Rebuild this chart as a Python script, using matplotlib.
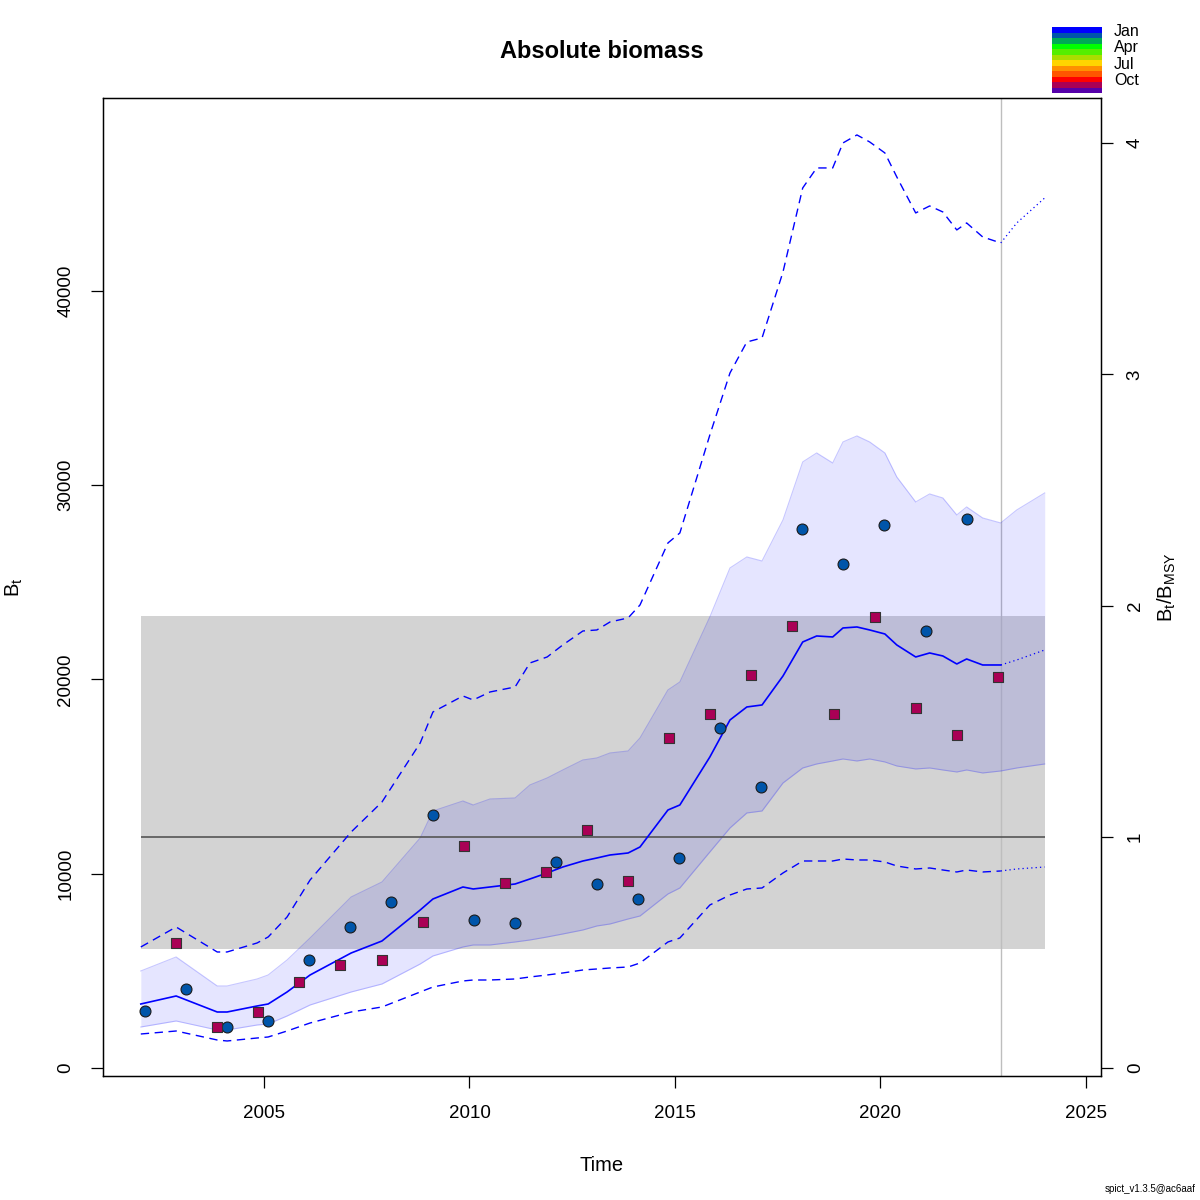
import numpy as np
import matplotlib
matplotlib.use("Agg")
import matplotlib.pyplot as plt

# time grid of the model (yr)
time = [2002.00, 2002.86, 2003.86, 2004.10, 2004.83, 2005.10, 2005.56, 2006.12,
        2007.12, 2007.87, 2008.80, 2009.11, 2009.84, 2010.09, 2010.50, 2011.11,
        2011.47, 2011.89, 2012.27, 2012.76, 2013.10, 2013.42, 2013.86, 2014.15,
        2014.83, 2015.12, 2015.85, 2016.34, 2016.75, 2017.12, 2017.63, 2018.11,
        2018.45, 2018.84, 2019.09, 2019.43, 2019.74, 2020.11, 2020.40, 2020.86,
        2021.20, 2021.52, 2021.86, 2022.10, 2022.49, 2022.93, 2023.32, 2024.00]

# estimated biomass
b_est = [3294, 3706, 2882, 2882, 3191, 3294, 3912, 4787, 5919, 6537, 8132, 8698,
         9316, 9213, 9316, 9470, 9728, 10037, 10345, 10654, 10809, 10963, 11066, 11375,
         13279, 13537, 16007, 17912, 18581, 18684, 20176, 21926, 22235, 22184, 22647, 22698,
         22544, 22338, 21772, 21154, 21360, 21206, 20794, 21051, 20742, 20742, 21000, 21514]

# 95% CI of biomass
b_lo = [2110, 2419, 1956, 1956, 2213, 2265, 2676, 3243, 3912, 4323, 5353, 5765,
        6228, 6331, 6331, 6485, 6588, 6743, 6897, 7103, 7309, 7412, 7669, 7823,
        8956, 9265, 11118, 12353, 13125, 13228, 14669, 15441, 15647, 15801, 15904, 15801,
        15904, 15750, 15544, 15390, 15441, 15338, 15235, 15338, 15184, 15287, 15441, 15647]
b_hi = [4993, 5713, 4221, 4221, 4581, 4787, 5559, 6691, 8801, 9573, 11838, 13228,
        13742, 13537, 13845, 13897, 14566, 14926, 15338, 15853, 15956, 16213, 16316, 16985,
        19456, 19867, 23213, 25735, 26301, 26095, 28206, 31191, 31654, 31139, 32220, 32529,
        32220, 31654, 30419, 29132, 29544, 29338, 28463, 28875, 28309, 28051, 28720, 29595]

# CI of B/Bmsy scaled to biomass (dashed)
bb_lo = [1750, 1904, 1441, 1390, 1544, 1596, 1904, 2316, 2882, 3140, 3912, 4169,
         4478, 4529, 4529, 4581, 4684, 4787, 4890, 5044, 5096, 5147, 5198, 5404,
         6485, 6691, 8390, 8904, 9213, 9265, 10037, 10654, 10654, 10654, 10757, 10706,
         10706, 10603, 10397, 10243, 10294, 10191, 10088, 10191, 10088, 10140, 10243, 10345]
bb_hi = [6228, 7257, 5971, 5971, 6434, 6743, 7772, 9676, 12147, 13691, 16728, 18323,
         19147, 18941, 19353, 19610, 20845, 21154, 21772, 22492, 22544, 22956, 23162, 23831,
         27022, 27536, 32581, 35772, 37367, 37573, 40970, 45294, 46323, 46323, 47610, 48022,
         47661, 47095, 45860, 44007, 44367, 44058, 43132, 43492, 42772, 42463, 43492, 44779]

t_last = 2022.93
bmsy = 11900
bmsy_ci = [6120, 23260]

# index 1 (circles) and index 2 (squares)
t_idx1 = [2002.1 + k for k in range(21)]
idx1 = [2934, 4066, 2110, 2419, 5558, 7257, 8543, 13021, 7617, 7463, 10602,
        9470, 8698, 10808, 17499, 14462, 27740, 25939, 27946, 22491, 28255]
t_idx2 = [2002.86 + k for k in range(21)]
idx2 = [6433, 2110, 2882, 4426, 5301, 5558, 7514, 11426, 9521, 10088, 12249,
        9624, 16984, 18219, 20226, 22748, 18219, 23211, 18528, 17138, 20123]

month_cols = ["#0000FF", "#0055AA", "#00AA55", "#00FF00", "#55EE00", "#AADD00",
              "#FFD500", "#FF9000", "#FF5500", "#FF0000", "#AA0055", "#5500AA"]
month_labels = ["Jan", "Apr", "Jul", "Oct"]

plt.rcParams["font.family"] = ["Liberation Sans", "DejaVu Sans"]
plt.rcParams["mathtext.default"] = "regular"

fig = plt.figure(figsize=(12, 12), dpi=100)
ax = fig.add_axes([103 / 1200, 1 - 1076 / 1200, 998 / 1200, 978 / 1200])
ax.set_xlim(2001.08, 2025.37)
ax.set_ylim(-412, 49923)

t = np.array(time)
k = int(np.searchsorted(t, t_last))

ax.fill_between([time[0], time[-1]], bmsy_ci[0], bmsy_ci[1], color="#D3D3D3", lw=0, zorder=1)
ax.axvline(t_last, color="#BEBEBE", lw=1, zorder=2)
ax.fill_between(time, b_lo, b_hi, color=(0, 0, 1, 0.1), lw=0, zorder=2)
ax.plot(time, b_lo, color=(0, 0, 1, 0.22), lw=0.8, zorder=2)
ax.plot(time, b_hi, color=(0, 0, 1, 0.22), lw=0.8, zorder=2)
ax.hlines(bmsy, time[0], time[-1], color="#555555", lw=1.2, zorder=3)

for ser in (bb_lo, bb_hi):
    ax.plot(time[:k + 1], ser[:k + 1], color="blue", lw=1.0, ls=(0, (6, 4)), zorder=4)
    ax.plot(time[k:], ser[k:], color="blue", lw=0.9, ls=(0, (1, 2.5)), zorder=4)
ax.plot(time[:k + 1], b_est[:k + 1], color="blue", lw=1.2, zorder=4)
ax.plot(time[k:], b_est[k:], color="blue", lw=0.9, ls=(0, (1, 2.5)), zorder=4)

ax.scatter(t_idx1, idx1, s=62, marker="o", c=month_cols[1], edgecolors="#1a1a1a",
           linewidths=0.8, zorder=5)
ax.scatter(t_idx2, idx2, s=50, marker="s", c=month_cols[10], edgecolors="#333333",
           linewidths=0.8, zorder=5)

ax.set_xticks([2005, 2010, 2015, 2020, 2025])
yt = [0, 10000, 20000, 30000, 40000]
ax.set_yticks(yt)
ax.set_yticklabels([str(v) for v in yt], rotation=90, va="center")
ax.tick_params(axis="both", direction="out", length=8.6, width=0.9, labelsize=13.5)
ax.tick_params(axis="x", pad=12.5)
ax.tick_params(axis="y", pad=12)
for s in ax.spines.values():
    s.set_linewidth(1)

ax2 = ax.twinx()
ax2.set_ylim(ax.get_ylim()[0] / bmsy, ax.get_ylim()[1] / bmsy)
ax2.set_yticks([0, 1, 2, 3, 4])
ax2.set_yticklabels(["0", "1", "2", "3", "4"], rotation=90, va="center")
ax2.tick_params(axis="y", direction="out", length=8.6, width=0.9, labelsize=13.5, pad=10)

ax.set_xlabel("Time", fontsize=14.5)
ax.xaxis.set_label_coords(0.5, -0.082)
ax.set_ylabel("$B_t$", fontsize=14.5)
ax.yaxis.set_label_coords(-0.078, 0.5)
ax2.set_ylabel("$B_t/B_{MSY}$", fontsize=14.5)
ax2.yaxis.set_label_coords(1.055, 0.5)

fig.text(602 / 1200, 1 - 51 / 1200, "Absolute biomass", ha="center", va="center",
         fontsize=17, fontweight="bold")

# month colour legend
leg = fig.add_axes([1052 / 1200, 1 - 93 / 1200, 50 / 1200, 66 / 1200])
leg.barh(np.arange(12) + 0.5, [1] * 12, height=1.0, color=month_cols, lw=0)
leg.set_xlim(0, 1)
leg.set_ylim(12, 0)
leg.axis("off")
for i, lab in enumerate(month_labels):
    leg.text(1.24, 3 * i + 0.8, lab, fontsize=11.5, ha="left", va="center", clip_on=False)

fig.text(0.996, 0.005, "spict_v1.3.5@ac6aaf", ha="right", va="bottom", fontsize=7)

fig.savefig("out.png", dpi=100)
